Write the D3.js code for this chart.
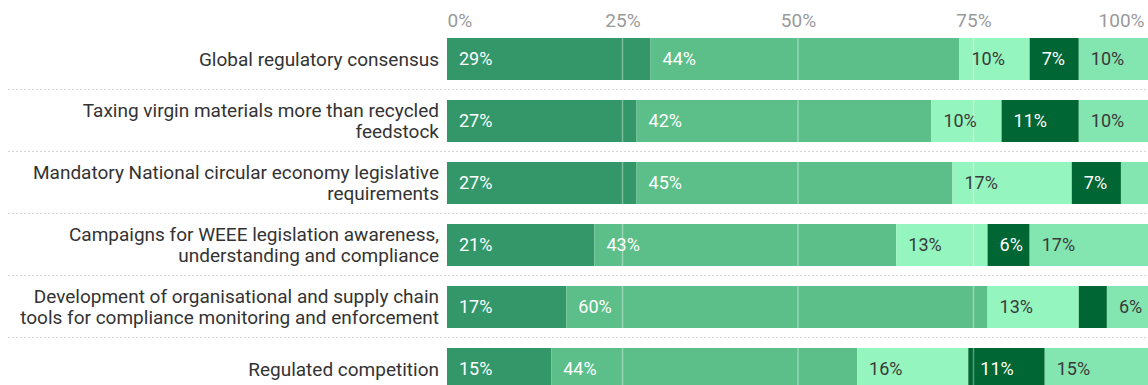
<!DOCTYPE html>
<html>
<head>
<meta charset="utf-8">
<script src="https://cdn.jsdelivr.net/npm/d3@7"></script>
<style>
  html, body { margin: 0; padding: 0; background: #fff; }
  svg { display: block; font-family: Roboto, "Noto Sans", sans-serif; }
</style>
</head>
<body>
<svg id="chart" width="1148" height="385"></svg>
<script>
// Survey measures, one stacked bar per measure (shares in %)
const categories = [
  "Global regulatory consensus",
  "Taxing virgin materials more than recycled feedstock",
  "Mandatory National circular economy legislative requirements",
  "Campaigns for WEEE legislation awareness, understanding and compliance",
  "Development of organisational and supply chain tools for compliance monitoring and enforcement",
  "Regulated competition"
];
const seriesKeys = ["s1", "s2", "s3", "s4", "s5"];
const s1 = [29, 27, 27, 21, 17, 15];
const s2 = [44, 42, 45, 43, 60, 44];
const s3 = [10, 10, 17, 13, 13, 16];
const s4 = [7, 11, 7, 6, 4, 11];
const s5 = [10, 10, 4, 17, 6, 15];
const tickValues = [0, 0.25, 0.5, 0.75, 1];
const tickLabels = ["0%", "25%", "50%", "75%", "100%"];

const colors = ["#33976a", "#5cbf8a", "#95f5be", "#006633", "#83e6b0"];
const labelColors = ["#ffffff", "#ffffff", "#3a3a3a", "#ffffff", "#3a3a3a"];

const rows = categories.map((c, i) => ({
  category: c, s1: s1[i], s2: s2[i], s3: s3[i], s4: s4[i], s5: s5[i]
}));

const svg = d3.select("#chart");
const W = 1148;
const marginLeft = 447, plotRight = 1149, marginTop = 38, rowStep = 62, barH = 42;
const n = categories.length;

const x = d3.scaleLinear().domain([0, 1]).range([marginLeft, plotRight]);
const y = d3.scaleBand()
  .domain(categories)
  .range([marginTop, marginTop + rowStep * (n - 1) + barH])
  .paddingInner((rowStep - barH) / rowStep)
  .paddingOuter(0);

// each bar spans the full width (shares of the row total)
const stack = d3.stack().keys(seriesKeys).offset(d3.stackOffsetExpand);
const layers = stack(rows);

// dotted separators between rows
svg.append("g").selectAll("line")
  .data(categories.slice(1))
  .join("line")
  .attr("x1", 8).attr("x2", W)
  .attr("y1", c => y(c) - 10.5).attr("y2", c => y(c) - 10.5)
  .attr("stroke", "#d6d6d6")
  .attr("stroke-width", 1)
  .attr("stroke-dasharray", "2,2");

// bars
const gBars = svg.append("g");
layers.forEach((layer, k) => {
  gBars.append("g")
    .attr("fill", colors[k])
    .selectAll("rect")
    .data(layer)
    .join("rect")
    .attr("x", d => x(d[0]))
    .attr("width", d => x(d[1]) - x(d[0]))
    .attr("y", d => y(d.data.category))
    .attr("height", y.bandwidth());
});

// faint gridlines over the bars
svg.append("g").selectAll("line")
  .data(tickValues.slice(1, -1))
  .join("line")
  .attr("x1", d => x(d)).attr("x2", d => x(d))
  .attr("y1", marginTop).attr("y2", 385)
  .attr("stroke", "#ffffff")
  .attr("stroke-opacity", 0.35)
  .attr("stroke-width", 1.5);

// value labels (hidden on very thin segments)
const gLabels = svg.append("g").attr("font-size", 18);
layers.forEach((layer, k) => {
  const key = layer.key;
  gLabels.append("g")
    .attr("fill", labelColors[k])
    .selectAll("text")
    .data(layer.filter(d => d.data[key] >= 5))
    .join("text")
    .attr("x", d => x(d[0]) + 12)
    .attr("y", d => y(d.data.category) + y.bandwidth() / 2)
    .attr("dy", "0.35em")
    .text(d => d.data[key] + "%");
});

// top axis tick labels
const xAxis = d3.axisTop(x).tickValues(tickValues)
  .tickFormat((d, i) => tickLabels[i]).tickSize(0).tickPadding(0);
const gAxis = svg.append("g").attr("transform", "translate(0,27)").call(xAxis);
gAxis.select(".domain").remove();
gAxis.selectAll("text")
  .attr("font-family", "Roboto, sans-serif")
  .attr("font-size", 19)
  .attr("fill", "#9a9a9a")
  .attr("text-anchor", (d, i) => i === 0 ? "start" : (i === tickValues.length - 1 ? "end" : "middle"))
  .attr("dx", (d, i) => i === tickValues.length - 1 ? -5 : 0);

// category labels, wrapped to the left column
const maxW = 432;
const gCat = svg.append("g").attr("font-size", 19).attr("fill", "#333").attr("text-anchor", "end");
categories.forEach(c => {
  const t = gCat.append("text").attr("x", 439);
  const words = c.split(" ");
  const lines = [];
  let line = [];
  const probe = gCat.append("text").attr("visibility", "hidden");
  words.forEach(w => {
    const trial = line.concat([w]).join(" ");
    probe.text(trial);
    if (probe.node().getComputedTextLength() > maxW && line.length) {
      lines.push(line.join(" "));
      line = [w];
    } else {
      line.push(w);
    }
  });
  lines.push(line.join(" "));
  probe.remove();
  const lh = 21;
  const cy = y(c) + y.bandwidth() / 2;
  lines.forEach((l, i) => {
    t.append("tspan")
      .attr("x", 439)
      .attr("y", cy + (i - (lines.length - 1) / 2) * lh)
      .attr("dy", "0.35em")
      .text(l);
  });
});
</script>
</body>
</html>
